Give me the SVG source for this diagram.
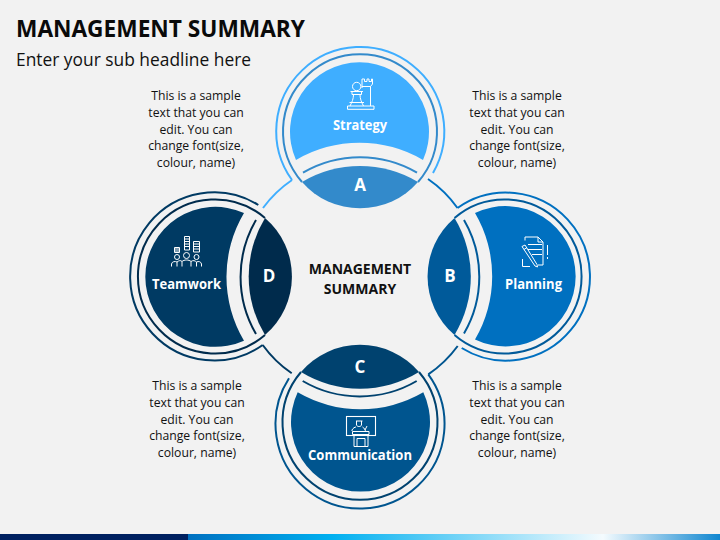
<svg xmlns="http://www.w3.org/2000/svg" width="720" height="540" viewBox="0 0 720 540">
<style>
text{font-family:"Open Sans","Liberation Sans",sans-serif}
.b{font-size:12.2px;fill:#111;text-anchor:middle}
.l{font-weight:700;fill:#fff;text-anchor:middle;font-size:13.500px}
.k{font-weight:700;fill:#fff;text-anchor:middle;font-size:17px}
.r{fill:none;stroke-width:2}
.t{fill:none;stroke-width:2}
.i{fill:none;stroke:#fff;stroke-width:1}
</style>
<defs>
<linearGradient id="g" x1="188" x2="720" y1="0" y2="0" gradientUnits="userSpaceOnUse">
<stop offset="0" stop-color="#0070C0"/><stop offset="0.27" stop-color="#00B0F0"/><stop offset="0.78" stop-color="#F4FBFE"/><stop offset="1" stop-color="#0F86D0"/>
</linearGradient>
</defs>
<rect width="720" height="540" fill="#F2F2F2"/>
<rect y="534" width="188" height="6" fill="#002060"/>
<rect x="188" y="534" width="532" height="6" fill="url(#g)"/>
<text x="16" y="37" font-size="24" font-weight="700" fill="#0a0a0a" textLength="289" lengthAdjust="spacingAndGlyphs">MANAGEMENT SUMMARY</text>
<text x="16" y="66" font-size="18" fill="#111" textLength="235" lengthAdjust="spacingAndGlyphs">Enter your sub headline here</text>

<g id="connectors" fill="none" stroke-width="2">
<path d="M292,180 A118,118 0 0 0 263,208" stroke="#3FAEFF"/>
<path d="M428,179 A118,118 0 0 1 457.5,208" stroke="#0070C0"/>
<path d="M457.7,346 A118,118 0 0 1 428.3,374.3" stroke="#00558F"/>
<path d="M291.7,373.3 A118,118 0 0 1 262.7,345" stroke="#003A63"/>
</g>

<g id="node-a">
<path class="r" stroke="#3FAEFF" d="M292,180 A84,84 0 1 1 433,173"/>
<path class="r" stroke="#338ACB" d="M302,182 A77,77 0 1 1 418,182"/>
<path fill="#3FAEFF" d="M296,160 A69.500,69.500 0 1 1 423,160 A125,125 0 0 0 296,160Z"/>
<path class="t" stroke="#338ACB" d="M303,172.700 A113,113 0 0 1 417,172.700"/>
<path fill="#338ACB" d="M302,182 A113,113 0 0 1 418,182 A77,77 0 0 1 302,182Z"/>
<g class="i">
<circle cx="356.700" cy="86.500" r="4.200"/>
<path d="M350.500,91.500H363M352,91.500V94.500H361.500V91.500M353.500,94.500C353.500,99 352,102 350,106M360,94.500C360,99 361.500,102 363.500,106M347.500,106H374V109.300H347.500ZM349.500,102.500H364M362,88V79H364.500V81.500H367V79H369V81.500H371.500V79H372.500V84L370.500,86.500V106M362,86.500H370.500"/>
</g>
<text class="l" x="360" y="130" textLength="54" lengthAdjust="spacingAndGlyphs">Strategy</text>
<text class="k" x="360" y="191">A</text>
</g>

<g id="node-b">
<path class="r" stroke="#0070C0" d="M457.500,208 A84,84 0 1 1 461.700,348"/>
<path class="r" stroke="#005A9A" d="M454.500,218 A77,77 0 1 1 454.500,335"/>
<path fill="#0070C0" d="M475,213 A70.200,70.200 0 1 1 475,339.500 A125,125 0 0 0 475,213Z"/>
<path class="t" stroke="#005A9A" d="M464,220 A113,113 0 0 1 464,333.500"/>
<path fill="#005A9A" d="M454.500,218 A113,113 0 0 1 454.500,335 A77,77 0 0 1 454.500,218Z"/>
<g class="i">
<path d="M525,240.500V237H538L543,242V265H538M538,237V242H543M528,244.500H542M528,249.500H542M532,254.500H542M522.500,259V266.500H530M547.500,245V255M547.500,257V259"/>
<path d="M522,246.500L525,245L537,264.500L537.500,267L535,266L522,246.500ZM524,249.500L527,247.500"/>
</g>
<text class="l" x="533.500" y="289" textLength="57" lengthAdjust="spacingAndGlyphs">Planning</text>
<text class="k" x="450" y="282">B</text>
</g>

<g id="node-c">
<path class="r" stroke="#00558F" d="M428.300,374.300 A84.500,84.500 0 1 1 289,378.300"/>
<path class="r" stroke="#00426F" d="M419,372 A77.500,77.500 0 1 1 301,372"/>
<path fill="#00558F" d="M423.300,392.300 A69.500,69.500 0 1 1 297.700,392.300 A125,125 0 0 0 423.300,392.300Z"/>
<path class="t" stroke="#00426F" d="M416.700,381 A113,113 0 0 1 302.700,381"/>
<path fill="#00426F" d="M419,372 A113,113 0 0 1 301,372 A77.500,77.500 0 0 1 419,372Z"/>
<g class="i">
<rect x="346.500" y="416.500" width="29" height="19" stroke-width="1.100"/>
<path d="M352,431V430C353,428 355,427 356,427M362.500,427C364.500,428 365,430 365.500,431M356,421H362.500M356.500,421V425C357,427 361,427 361.500,425V421M352.500,431.500H369V434.500H352.500ZM354,434.500V446.500H368V434.500M357,438.500H365V446.500H357ZM365,430L367,426"/>
</g>
<text class="l" x="360" y="460" textLength="104" lengthAdjust="spacingAndGlyphs">Communication</text>
<text class="k" x="360" y="373">C</text>
</g>

<g id="node-d">
<path class="r" stroke="#003A63" d="M262.700,345 A84,84 0 1 1 258.300,205"/>
<path class="r" stroke="#002B4C" d="M265,335 A77,77 0 1 1 265,218"/>
<path fill="#003A63" d="M244,340.700 A70,70 0 1 1 244,213 A125,125 0 0 0 244,340.700Z"/>
<path class="t" stroke="#002B4C" d="M256,334 A113,113 0 0 1 256,220"/>
<path fill="#002B4C" d="M265,335 A113,113 0 0 1 265,218 A77,77 0 0 1 265,335Z"/>
<g class="i">
<path d="M174.500,247.500H179.500V252.500H174.500ZM174.500,249H179.500M174.500,251H179.500M184.500,236.500H189.500V250H184.500ZM184.500,239H189.500M184.500,241.500H189.500M184.500,244H189.500M184.500,246.500H189.500M193.500,241.500H199.500V252H193.500ZM193.500,244H199.500M193.500,246.500H199.500M193.500,249H199.500"/>
<circle cx="177" cy="257" r="2.500"/><circle cx="186.500" cy="255.500" r="3"/><circle cx="196.500" cy="257" r="2.500"/>
<path d="M171.500,266.500V264C172,261.500 175,261 177,262C179,260.500 180.500,260 182,261.500C184,259.500 189,259.500 191,261.500C193,260 195,260.500 196.500,262C198.500,261 201,261.500 201.500,264V266.500M177,262V266.500M182,261.500V266.500M191,261.500V266.500M196.500,262V266.500"/>
</g>
<text class="l" x="186.500" y="289" textLength="69" lengthAdjust="spacingAndGlyphs">Teamwork</text>
<text class="k" x="269" y="282">D</text>
</g>

<g id="center"><text x="360" y="274" font-size="14" font-weight="700" fill="#111" text-anchor="middle">MANAGEMENT</text><text x="360" y="293.500" font-size="14" font-weight="700" fill="#111" text-anchor="middle">SUMMARY</text></g>

<g id="text-tl"><text class="b" x="196" y="100">This is a sample</text><text class="b" x="196" y="117">text that you can</text><text class="b" x="196" y="134">edit. You can</text><text class="b" x="196" y="150">change font(size,</text><text class="b" x="196" y="167">colour, name)</text></g>
<g id="text-tr"><text class="b" x="517" y="100">This is a sample</text><text class="b" x="517" y="117">text that you can</text><text class="b" x="517" y="134">edit. You can</text><text class="b" x="517" y="150">change font(size,</text><text class="b" x="517" y="167">colour, name)</text></g>
<g id="text-bl"><text class="b" x="197" y="390">This is a sample</text><text class="b" x="197" y="407">text that you can</text><text class="b" x="197" y="424">edit. You can</text><text class="b" x="197" y="440">change font(size,</text><text class="b" x="197" y="457">colour, name)</text></g>
<g id="text-br"><text class="b" x="517" y="390">This is a sample</text><text class="b" x="517" y="407">text that you can</text><text class="b" x="517" y="424">edit. You can</text><text class="b" x="517" y="440">change font(size,</text><text class="b" x="517" y="457">colour, name)</text></g>
</svg>
